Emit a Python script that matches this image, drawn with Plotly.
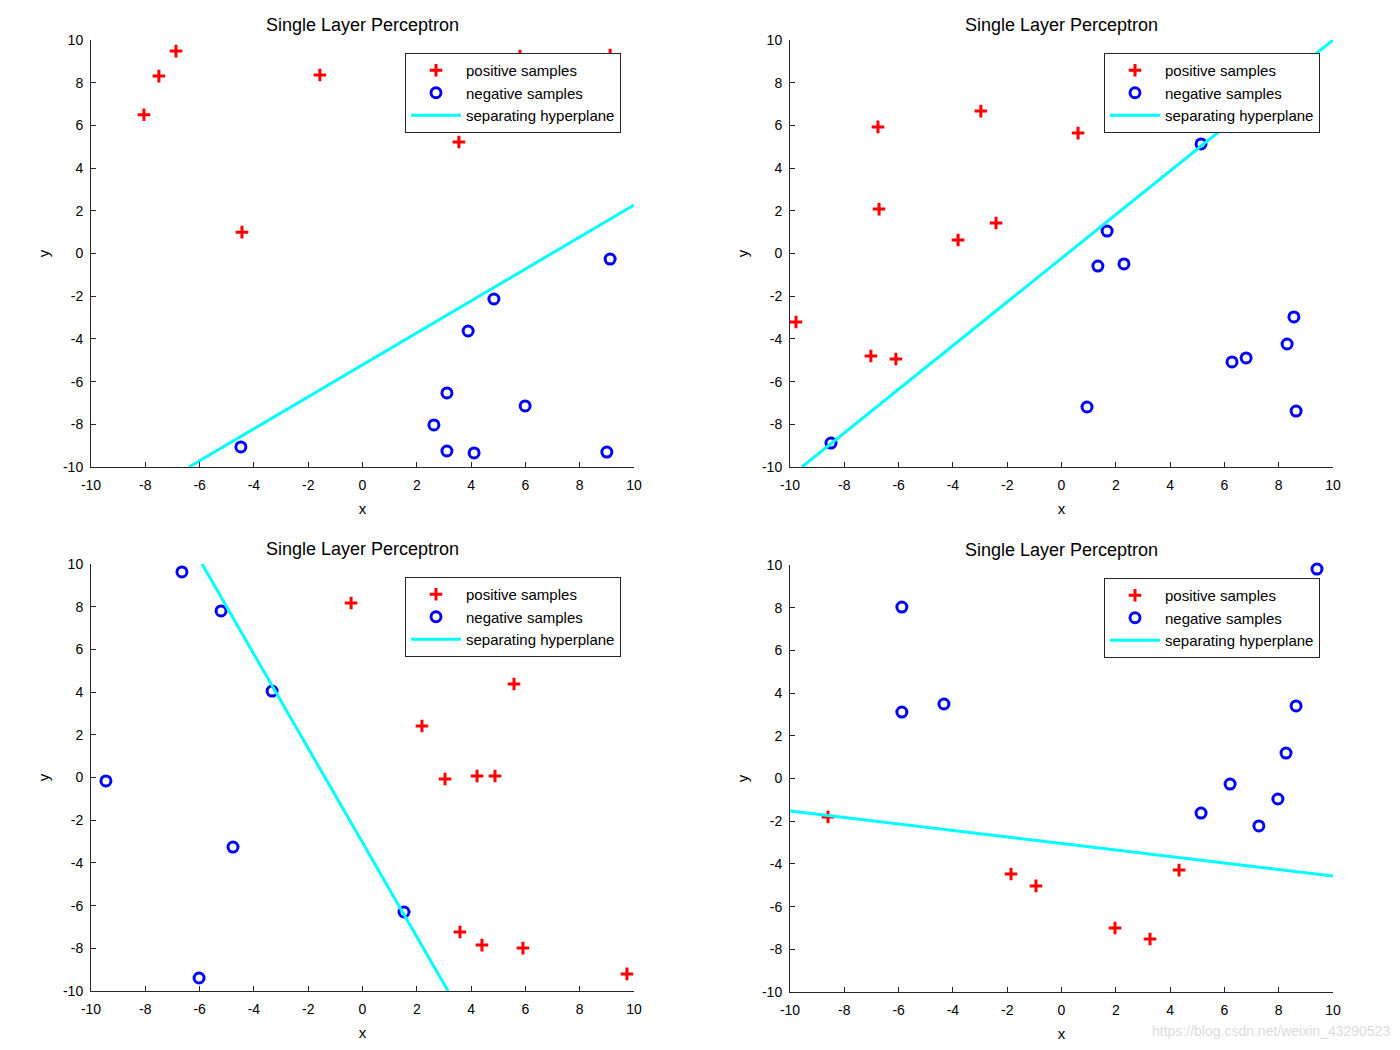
import plotly.graph_objects as go

# ---------------- data ----------------
# Panel 1
p1_pos_x = [-8.05, -7.50, -6.87, -1.57, 3.55, -4.44, 5.80, 9.12]
p1_pos_y = [6.50, 8.31, 9.48, 8.36, 5.22, 1.00, 9.25, 9.30]
p1_neg_x = [-4.48, 9.12, 4.84, 3.89, 3.11, 5.99, 2.63, 3.11, 4.11, 9.00]
p1_neg_y = [-9.06, -0.26, -2.13, -3.63, -6.53, -7.14, -8.03, -9.25, -9.34, -9.30]
p1_line_x = [-6.39, 10.0]
p1_line_y = [-10.0, 2.27]

# Panel 2
p2_pos_x = [-9.78, -6.76, -6.72, -7.02, -6.10, -3.81, -2.97, -2.41, 0.61]
p2_pos_y = [-3.21, 5.93, 2.08, -4.80, -4.94, 0.63, 6.67, 1.43, 5.64]
p2_neg_x = [-8.49, 5.14, 1.68, 1.34, 2.30, 0.94, 6.28, 6.80, 8.56, 8.31, 8.64]
p2_neg_y = [-8.88, 5.13, 1.05, -0.59, -0.49, -7.19, -5.08, -4.89, -2.97, -4.24, -7.38]
p2_line_x = [-9.56, 10.0]
p2_line_y = [-10.0, 10.0]

# Panel 3
p3_pos_x = [-0.42, 7.16, 5.58, 2.19, 3.04, 4.22, 4.88, 3.59, 4.40, 5.91, 9.74]
p3_pos_y = [8.17, 6.16, 4.38, 2.41, -0.07, 0.07, 0.07, -7.24, -7.85, -7.99, -9.20]
p3_neg_x = [-9.45, -6.65, -5.21, -3.33, -4.77, -6.02, 1.53]
p3_neg_y = [-0.16, 9.63, 7.80, 4.05, -3.26, -9.39, -6.30]
p3_line_x = [-5.91, 3.15]
p3_line_y = [10.0, -10.0]

# Panel 4
p4_pos_x = [-8.60, -1.86, -0.94, 1.97, 3.26, 4.33]
p4_pos_y = [-1.80, -4.47, -5.03, -7.00, -7.52, -4.29]
p4_neg_x = [-5.88, -5.88, -4.33, 9.41, 8.64, 8.27, 6.21, 5.14, 7.97, 7.27, 1.86]
p4_neg_y = [8.03, 3.11, 3.49, 9.81, 3.40, 1.19, -0.26, -1.62, -0.96, -2.22, 7.52]
p4_line_x = [-10.0, 10.0]
p4_line_y = [-1.52, -4.57]

tick_vals = [-10, -8, -6, -4, -2, 0, 2, 4, 6, 8, 10]
tick_text = ["-10", "-8", "-6", "-4", "-2", "0", "2", "4", "6", "8", "10"]
title_text = "Single Layer Perceptron"
legend_names = ["positive samples", "negative samples", "separating hyperplane"]

panels = [
    (p1_pos_x, p1_pos_y, p1_neg_x, p1_neg_y, p1_line_x, p1_line_y),
    (p2_pos_x, p2_pos_y, p2_neg_x, p2_neg_y, p2_line_x, p2_line_y),
    (p3_pos_x, p3_pos_y, p3_neg_x, p3_neg_y, p3_line_x, p3_line_y),
    (p4_pos_x, p4_pos_y, p4_neg_x, p4_neg_y, p4_line_x, p4_line_y),
]

# ---------------- layout geometry (pixels, in screenshot coordinates) ----------------
OFF = 8                      # default page body margin
W, H = 1400 - OFF, 1050 - OFF
x_doms_px = [(91, 634), (790, 1333), (91, 634), (790, 1333)]
y_doms_px = [(40, 467), (40, 467), (564, 991), (565, 992)]


def fx(p):
    return (p - OFF) / W


def fy(p):
    return 1 - (p - OFF) / H


FONT = "Liberation Sans, Arial, Helvetica, sans-serif"
AX_COLOR = "#262626"

fig = go.Figure()
layout = dict(
    template="none",
    width=W, height=H,
    margin=dict(l=0, r=0, t=0, b=0, autoexpand=False),
    paper_bgcolor="white", plot_bgcolor="white",
    font=dict(family=FONT, size=14, color=AX_COLOR),
    showlegend=True,
)
annotations = []

for i, (px, py, nx, ny, lx, ly) in enumerate(panels):
    k = i + 1
    xa = "x" if k == 1 else f"x{k}"
    ya = "y" if k == 1 else f"y{k}"
    lg = "legend" if k == 1 else f"legend{k}"
    fig.add_trace(go.Scatter(
        x=px, y=py, mode="markers", name=legend_names[0],
        xaxis=xa, yaxis=ya, legend=lg, cliponaxis=False,
        marker=dict(symbol="cross-thin", size=9, color="red",
                    line=dict(color="red", width=3)),
    ))
    fig.add_trace(go.Scatter(
        x=nx, y=ny, mode="markers", name=legend_names[1],
        xaxis=xa, yaxis=ya, legend=lg, cliponaxis=False,
        marker=dict(symbol="circle-open", size=10, color="blue",
                    line=dict(color="blue", width=3)),
    ))
    fig.add_trace(go.Scatter(
        x=lx, y=ly, mode="lines", name=legend_names[2],
        xaxis=xa, yaxis=ya, legend=lg,
        line=dict(color="cyan", width=3),
    ))

    x0, x1 = x_doms_px[i]
    yt, yb = y_doms_px[i]
    xdom = [fx(x0), fx(x1)]
    ydom = [fy(yb), fy(yt)]
    axkey_x = "xaxis" if k == 1 else f"xaxis{k}"
    axkey_y = "yaxis" if k == 1 else f"yaxis{k}"
    layout[axkey_x] = dict(
        domain=xdom, range=[-10, 10], anchor=ya, automargin=False,
        tickvals=tick_vals, ticktext=tick_text,
        ticks="inside", ticklen=5, tickcolor=AX_COLOR, tickwidth=1,
        showline=True, linecolor=AX_COLOR, linewidth=1,
        showgrid=False, zeroline=False, ticklabelstandoff=5,
        tickfont=dict(size=14, color="black"),
        title=dict(text="x", font=dict(size=15, color="black"), standoff=11),
    )
    layout[axkey_y] = dict(
        domain=ydom, range=[-10, 10], anchor=xa, automargin=False,
        tickvals=tick_vals, ticktext=tick_text,
        ticks="inside", ticklen=5, tickcolor=AX_COLOR, tickwidth=1,
        showline=True, linecolor=AX_COLOR, linewidth=1,
        showgrid=False, zeroline=False, ticklabelstandoff=4,
        tickfont=dict(size=14, color="black"),
        title=dict(text="y", font=dict(size=15, color="black"), standoff=9),
    )
    layout[lg] = dict(
        x=fx(x1 - 13),
        y=fy(yt + 13),
        xanchor="right", yanchor="top",
        bgcolor="white", bordercolor=AX_COLOR, borderwidth=1,
        font=dict(family=FONT, size=15, color="black"),
        tracegroupgap=0, itemwidth=50,
    )
    annotations.append(dict(
        text=title_text, x=fx((x0 + x1) / 2), y=fy(yt - 15),
        xref="paper", yref="paper", xanchor="center", yanchor="middle",
        showarrow=False, font=dict(family=FONT, size=18, color="black"),
    ))

annotations.append(dict(
    text="https://blog.csdn.net/weixin_43290523", x=fx(1392), y=fy(1031),
    xref="paper", yref="paper", xanchor="right", yanchor="middle",
    showarrow=False, font=dict(family=FONT, size=14, color="#dcdcdc"),
))
layout["annotations"] = annotations
fig.update_layout(**layout)
fig.write_html("out.html")
